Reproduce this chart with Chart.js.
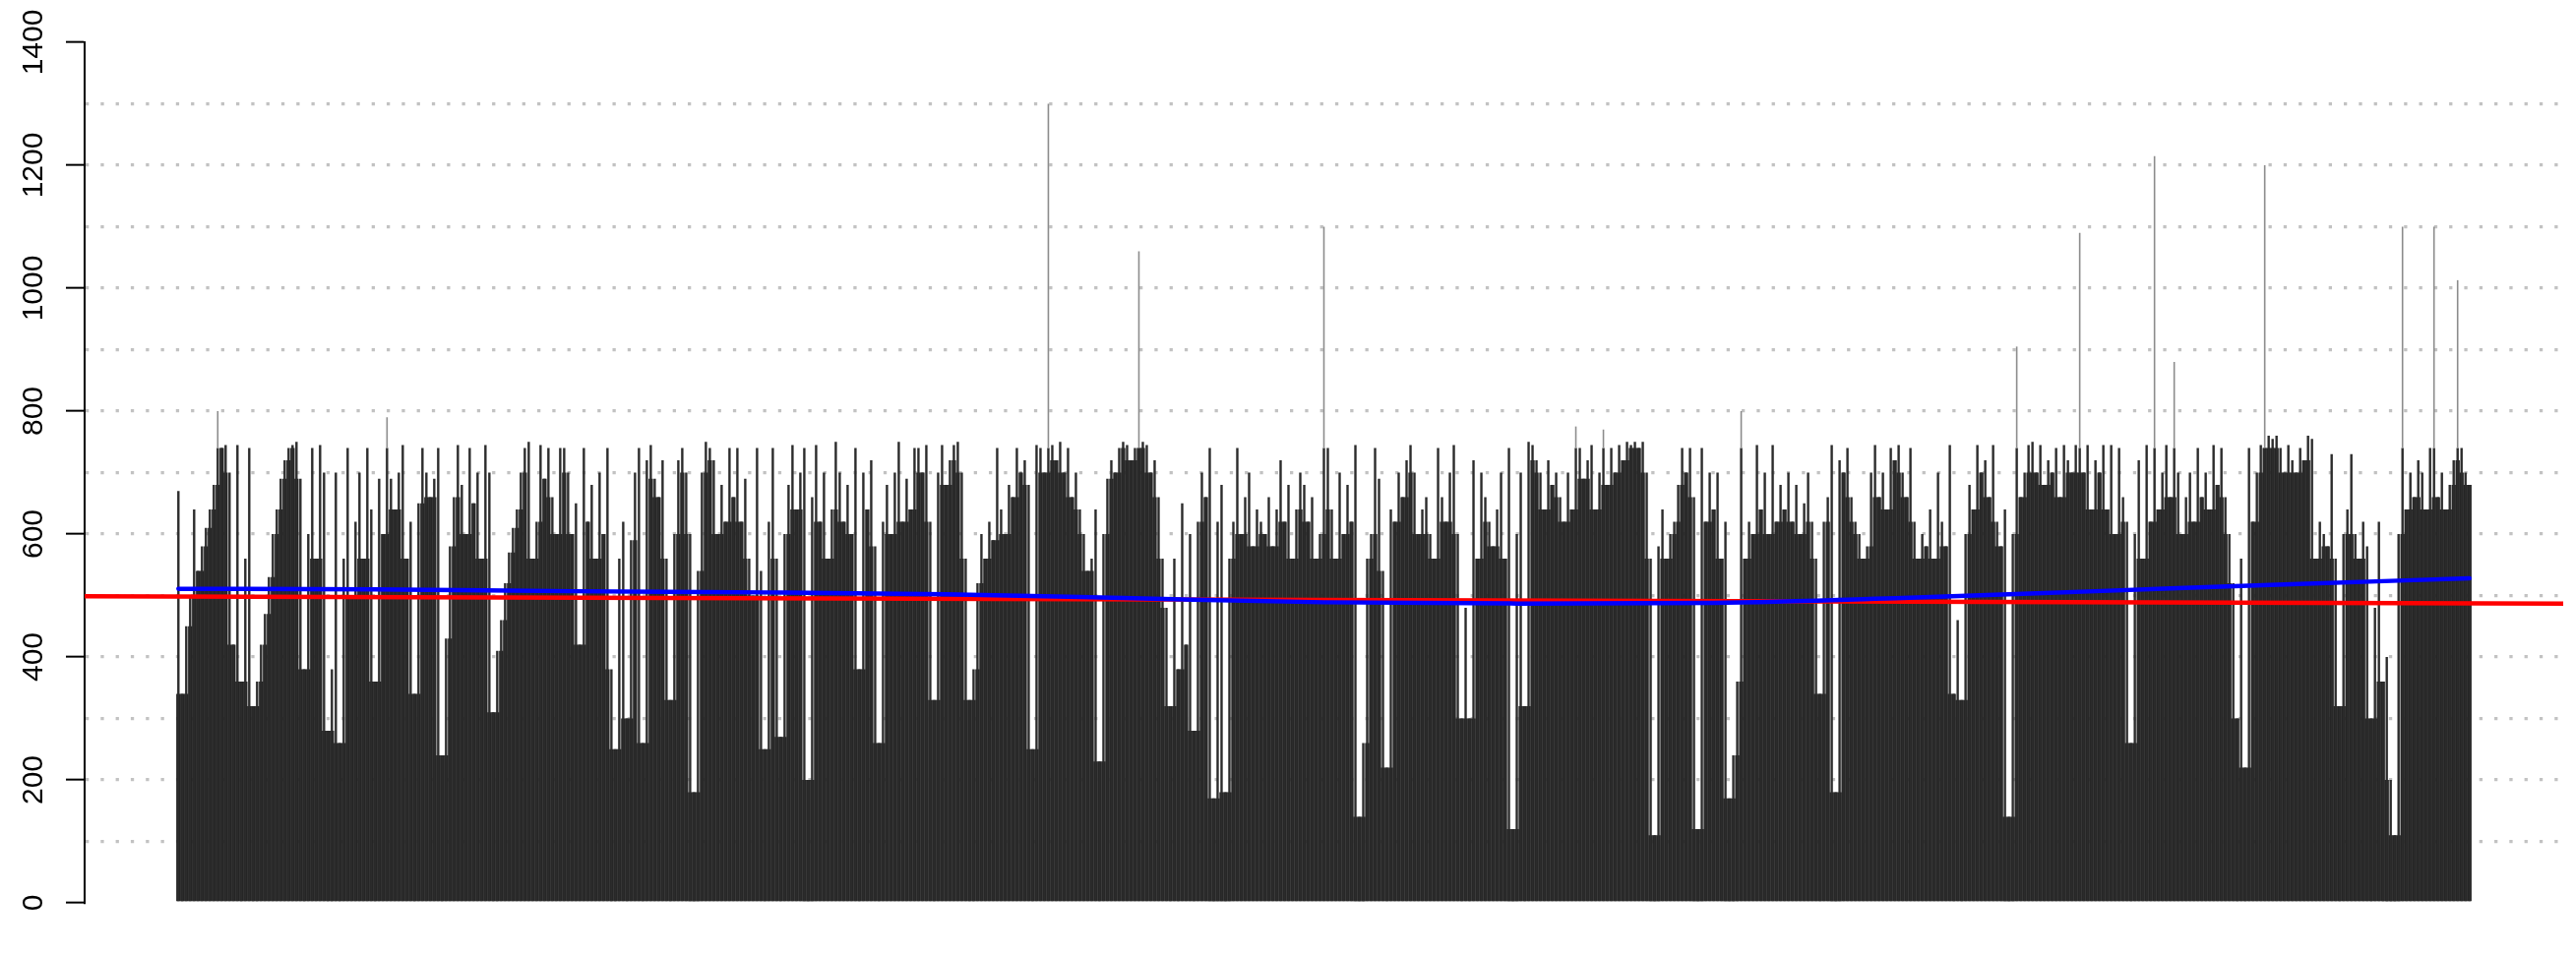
<!DOCTYPE html>
<html lang="en">
<head>
  <meta charset="UTF-8" />
  <title>Bar heights</title>
  <style>
    html, body { margin: 0; padding: 0; background: #fff; }
    #wrap { width: 2618px; height: 970px; }
  </style>
</head>
<body>
  <div id="wrap"><canvas id="chart" width="2618" height="970"></canvas></div>

  <script src="https://cdn.jsdelivr.net/npm/chart.js"></script>
  <script>
    // bar heights, read left to right in six stretches
    const heightsA = [670, 340, 450, 500, 640, 540, 580, 610, 640, 680,
      800, 740, 745, 700, 420, 745, 360, 560, 740, 320,
      360, 420, 470, 530, 600, 640, 690, 720, 740, 745,
      750, 690, 380, 600, 740, 560, 745, 700, 280, 380,
      700, 260, 560, 740, 500, 620, 700, 560, 740, 640,
      360, 690, 600, 790, 690, 640, 700, 745, 560, 620,
      340, 650, 740, 700, 660, 690, 740, 240, 430, 580,
      660, 745, 680, 600, 740, 650, 700, 560, 745, 700,
      310, 410, 460, 520, 570, 610, 640, 700, 740, 750,
      560, 620, 745, 690, 740, 660, 600, 740];
    const heightsB = [740, 700, 600, 650, 420, 740, 620, 680, 560, 700,
      600, 740, 380, 250, 560, 620, 300, 590, 700, 740,
      260, 720, 745, 690, 660, 720, 560, 330, 600, 720,
      740, 700, 600, 180, 540, 700, 750, 740, 720, 600,
      680, 620, 740, 660, 740, 620, 690, 560, 500, 740,
      540, 250, 620, 740, 560, 270, 600, 680, 745, 640,
      700, 740, 200, 660, 745, 620, 700, 560, 640, 750,
      700, 620, 680, 600, 740, 380, 700, 640, 720, 580,
      260, 620, 680, 600, 700, 750, 620, 690, 640, 740,
      740, 700, 745, 620, 330, 700, 745, 680];
    const heightsC = [720, 745, 750, 700, 560, 330, 380, 520, 600, 560,
      620, 590, 740, 640, 600, 680, 660, 740, 700, 720,
      680, 250, 745, 740, 700, 1300, 745, 720, 750, 700,
      740, 660, 700, 640, 600, 540, 560, 640, 230, 600,
      690, 720, 700, 740, 750, 745, 720, 740, 1060, 750,
      745, 700, 720, 660, 560, 480, 320, 560, 380, 650,
      420, 600, 280, 620, 700, 660, 740, 170, 620, 680,
      180, 560, 620, 740, 600, 660, 700, 580, 640, 620,
      600, 660, 580, 640, 720, 620, 680, 560, 640, 700,
      680, 620, 660, 560, 600, 1100];
    const heightsD = [740, 640, 560, 700, 600, 680, 620, 745, 140, 260,
      560, 600, 740, 690, 540, 220, 640, 620, 700, 660,
      720, 745, 700, 600, 640, 660, 600, 560, 740, 660,
      620, 700, 745, 600, 300, 480, 300, 720, 560, 700,
      660, 620, 580, 640, 700, 560, 740, 120, 600, 700,
      320, 750, 745, 720, 700, 640, 720, 680, 700, 660,
      620, 700, 640, 775, 740, 690, 720, 745, 640, 700,
      770, 680, 740, 700, 745, 720, 750, 745, 750, 740,
      750, 700, 560, 110, 580, 640, 560, 600, 620, 680,
      740, 700, 740, 660, 120, 740, 620, 700, 640];
    const heightsE = [700, 560, 620, 170, 240, 360, 800, 560, 620, 600,
      745, 640, 700, 600, 745, 620, 680, 640, 700, 620,
      680, 600, 650, 700, 620, 560, 340, 620, 660, 745,
      180, 720, 700, 740, 660, 620, 600, 560, 580, 700,
      745, 660, 700, 640, 740, 720, 745, 700, 660, 740,
      620, 560, 600, 580, 640, 560, 700, 620, 580, 745,
      340, 460, 330, 600, 680, 640, 745, 700, 720, 660,
      745, 620, 580, 640, 140, 600, 905, 660, 700, 745,
      750, 700, 745, 680, 720, 700, 740, 660, 745, 720,
      700, 745, 1090, 700, 745, 640, 720];
    const heightsF = [700, 745, 640, 745, 600, 740, 660, 620, 260, 600,
      720, 560, 745, 620, 1215, 640, 700, 745, 660, 880,
      700, 600, 660, 700, 620, 740, 660, 700, 640, 745,
      680, 740, 660, 600, 520, 300, 560, 220, 740, 620,
      700, 745, 1200, 760, 755, 760, 740, 700, 745, 720,
      700, 740, 720, 760, 755, 560, 620, 600, 580, 730,
      560, 320, 600, 640, 730, 600, 560, 620, 580, 300,
      480, 620, 360, 400, 200, 110, 600, 1100, 640, 700,
      660, 720, 700, 640, 740, 1100, 660, 700, 640, 680,
      720, 1013, 740, 700, 680];
    const heights = [].concat(heightsA, heightsB, heightsC, heightsD, heightsE, heightsF);

    // smooth trend (blue) sampled at bar positions
    const trendIdx = [0, 50, 100, 150, 195, 240, 291, 340, 390, 438, 487, 535, 582];
    const trendVal = [511, 510, 507, 505, 502, 496, 489, 487, 488, 496, 507, 518, 528];

    // straight fit (red) at the left and right edges of the plot
    const fitLine = [499, 487];

    const yTickLabels = [0, 200, 400, 600, 800, 1000, 1200, 1400];

    const spikeCut = 765;   // taller bars drawn as thin grey lines
    const spikeBase = 740;
    const pad = heights.length * 0.04;
    const xMin = -0.5 - pad;
    const xMax = heights.length - 0.5 + pad;

    // solid dark ground under each bar: up to the lowest of it and its neighbours,
    // so that only the tips show as separate thin strokes
    const ground = heights.map((v, i) => Math.min(v, heights[i - 1] ?? v, heights[i + 1] ?? v));

    // y labels are turned on their side, as in the original
    const sideLabels = {
      id: 'sideLabels',
      afterDraw(chart) {
        const ys = chart.scales.y;
        const ctx = chart.ctx;
        ctx.save();
        ctx.fillStyle = '#000';
        ctx.font = '30px "Liberation Sans", Arial, sans-serif';
        ctx.textAlign = 'center';
        ctx.textBaseline = 'alphabetic';
        yTickLabels.forEach(v => {
          ctx.save();
          ctx.translate(ys.right - 43, ys.getPixelForValue(v));
          ctx.rotate(-Math.PI / 2);
          ctx.fillText(String(v), 0, 0);
          ctx.restore();
        });
        ctx.restore();
      }
    };

    new Chart(document.getElementById('chart'), {
      type: 'bar',
      data: {
        datasets: [
          {
            type: 'line',
            label: 'trend',
            data: trendIdx.map((x, k) => ({ x: x, y: trendVal[k] })),
            borderColor: '#0000ff',
            borderWidth: 4.5,
            borderCapStyle: 'round',
            pointRadius: 0,
            cubicInterpolationMode: 'monotone'
          },
          {
            type: 'line',
            label: 'fit',
            data: [{ x: xMin, y: fitLine[0] }, { x: xMax, y: fitLine[1] }],
            borderColor: '#ff0000',
            borderWidth: 4.5,
            pointRadius: 0
          },
          {
            type: 'bar',
            label: 'spikes',
            data: heights.map((v, i) => v > spikeCut ? { x: i, y: [spikeBase, v] } : null).filter(Boolean),
            backgroundColor: '#8c8c8c',
            grouped: false,
            barPercentage: 0.4,
            categoryPercentage: 1
          },
          {
            type: 'bar',
            label: 'heights',
            data: heights.map((v, i) => ({ x: i, y: v > spikeCut ? spikeBase : v })),
            backgroundColor: '#2b2b2b',
            grouped: false,
            barPercentage: 0.6,
            categoryPercentage: 1
          },
          {
            type: 'bar',
            label: 'ground',
            data: ground.map((v, i) => ({ x: i, y: Math.min(v, spikeBase) })),
            backgroundColor: '#212121',
            grouped: false,
            barPercentage: 1.08,
            categoryPercentage: 1
          }
        ]
      },
      options: {
        responsive: false,
        maintainAspectRatio: false,
        devicePixelRatio: 1,
        animation: false,
        events: [],
        layout: { padding: { left: 67, right: 13, top: 43, bottom: 52 } },
        plugins: {
          legend: { display: false },
          tooltip: { enabled: false }
        },
        scales: {
          x: {
            type: 'linear',
            min: xMin,
            max: xMax,
            offset: false,
            display: false
          },
          y: {
            type: 'linear',
            min: 0,
            max: 1400,
            z: 1,
            afterFit: (s) => { s.width = 19; },
            ticks: { stepSize: 100, display: false },
            grid: {
              color: (c) => (c.tick.value === 0 || c.tick.value === 1400) ? 'rgba(0,0,0,0)' : '#c2c2c2',
              lineWidth: 3.3,
              drawTicks: true,
              tickLength: 19,
              tickWidth: 2,
              tickColor: (c) => c.tick.value % 200 === 0 ? '#000' : 'rgba(0,0,0,0)'
            },
            border: { display: true, color: '#000', width: 2, dash: [3.3, 12] }
          }
        }
      },
      plugins: [sideLabels]
    });
  </script>
</body>
</html>
